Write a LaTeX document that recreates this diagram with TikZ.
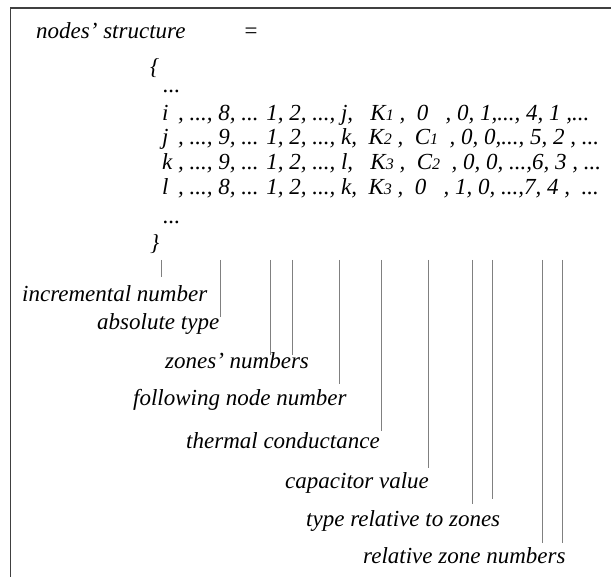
\documentclass[tikz,border=0pt]{standalone}
\usepackage{fontspec}
\setmainfont{Liberation Serif}
\newcommand{\sm}[1]{{\fontsize{16}{16}\selectfont #1}}
\begin{document}
\begin{tikzpicture}[x=1pt,y=-1pt,
  txt/.style={font=\fontsize{23}{23}\selectfont\itshape, inner sep=0pt, anchor=base west},
  lab/.style={txt},
  tick/.style={draw=black!50, line width=0.45pt},
  frame/.style={draw=black!75, line width=1.3pt}]
\useasboundingbox (0,0) rectangle (611,577);
\draw[frame] (611,8) -- (10.5,8) -- (10.5,577);

\node[txt] (title) at (36,39) {nodes' structure};
\node[txt] (eq) at (243,39) {=};
\node[txt] (ob) at (150,75) {\{};
\node[txt] (d1) at (163,93) {...};
\node[txt] (ri) at (162,121) {i\, , ..., 8, ... 1, 2, ..., j, \ \ K\sm{1} , \ 0 \ \ , 0, 1,..., 4, 1 ,...};
\node[txt] (rj) at (162,145) {j\, , ..., 9, ... 1, 2, ..., k, \ K\sm{2} , \ C\sm{1} \ , 0, 0,..., 5, 2 , ...};
\node[txt] (rk) at (162,170) {k , ..., 9, ... 1, 2, ..., l, \ \ K\sm{3} , \ C\sm{2} \ , 0, 0, ...,6, 3 , ...};
\node[txt] (rl) at (162,195) {l\, , ..., 8, ... 1, 2, ..., k, \ K\sm{3} , \ 0 \ \ , 1, 0, ...,7, 4 , \ ...};
\node[txt] (d2) at (163,224) {...};
\node[txt] (cb) at (150,251) {\}};

\node[lab] (l1) at (22,302) {incremental number};
\node[lab] (l2) at (97,330) {absolute type};
\node[lab] (l3) at (165,369) {zones' numbers};
\node[lab] (l4) at (133,406) {following node number};
\node[lab] (l5) at (186,449) {thermal conductance};
\node[lab] (l6) at (285,488) {capacitor value};
\node[lab] (l7) at (306,526) {type relative to zones};
\node[lab] (l8) at (363,563) {relative zone numbers};

\foreach \n/\x/\y in {a/161/277, b/220/317, c/270/355, d/292/355, e/339/384, f/381/431, g/428/468, h/472/504, k/492/499, m/542/543, n/562/543}{
  \coordinate (s\n) at (\x,260);
  \coordinate (e\n) at (\x,\y);
  \draw[tick] (s\n) -- (e\n);
}
\end{tikzpicture}
\end{document}
